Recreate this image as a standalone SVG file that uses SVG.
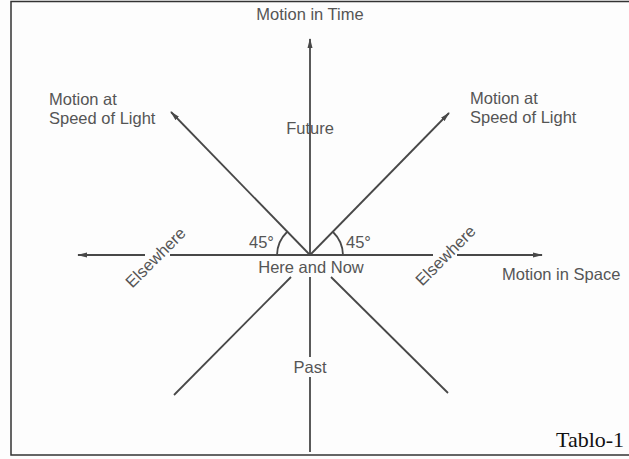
<svg xmlns="http://www.w3.org/2000/svg" width="629" height="459" viewBox="0 0 629 459">
<style>
.ln{stroke:#484848;stroke-width:1.8;fill:none}
.lb{font-family:"Liberation Sans",Arial,sans-serif;font-size:16.5px;fill:#555}
.cap{font-family:"Liberation Serif","Times New Roman",serif;font-size:22px;fill:#111}
</style>
<defs>
<marker id="ah" viewBox="0 0 10 6" refX="9" refY="3" markerWidth="10" markerHeight="6" markerUnits="userSpaceOnUse" orient="auto">
<path d="M0,0.5 L10,3 L0,5.5 Z" fill="#484848"/>
</marker>
</defs>
<rect width="629" height="459" fill="#fdfdfd"/>
<path d="M629,1.5 H11 V455 H629" stroke="#333" stroke-width="1.5" fill="none"/>
<g id="connectors">
<line class="ln" x1="310" y1="255" x2="310" y2="39" marker-end="url(#ah)"/>
<line class="ln" x1="310" y1="255" x2="171" y2="112" marker-end="url(#ah)"/>
<line class="ln" x1="310" y1="255" x2="449" y2="113" marker-end="url(#ah)"/>
<line class="ln" x1="145" y1="255" x2="78" y2="255" marker-end="url(#ah)"/>
<line class="ln" x1="170" y1="255" x2="433" y2="255"/>
<line class="ln" x1="457" y1="255" x2="542" y2="255" marker-end="url(#ah)"/>
<line class="ln" x1="310" y1="277" x2="310" y2="357"/>
<line class="ln" x1="310" y1="377" x2="310" y2="452"/>
<line class="ln" x1="291" y1="277" x2="174" y2="395"/>
<line class="ln" x1="331" y1="277" x2="448" y2="393"/>
<path class="ln" d="M277,255 A33,33 0 0 1 287,232"/>
<path class="ln" d="M343,255 A33,33 0 0 0 333,232"/>
</g>
<g id="time"><text class="lb" x="310" y="20" text-anchor="middle">Motion in Time</text></g>
<g id="light-left"><text class="lb" x="49" y="105">Motion at</text><text class="lb" x="49" y="124">Speed of Light</text></g>
<g id="light-right"><text class="lb" x="470" y="104">Motion at</text><text class="lb" x="470" y="123">Speed of Light</text></g>
<g id="future"><text class="lb" x="310" y="134" text-anchor="middle">Future</text></g>
<g id="angle-left"><text class="lb" x="249" y="248">45°</text></g>
<g id="angle-right"><text class="lb" x="346" y="248">45°</text></g>
<g id="here"><text class="lb" x="311" y="273" text-anchor="middle">Here and Now</text></g>
<g id="elsewhere-left"><text class="lb" x="0" y="5" text-anchor="middle" transform="translate(156,258) rotate(-45)">Elsewhere</text></g>
<g id="elsewhere-right"><text class="lb" x="0" y="5" text-anchor="middle" transform="translate(446,256) rotate(-45)">Elsewhere</text></g>
<g id="space"><text class="lb" x="502" y="280">Motion in Space</text></g>
<g id="past"><text class="lb" x="310" y="373" text-anchor="middle">Past</text></g>
<g id="caption"><text class="cap" x="556" y="447">Tablo-1</text></g>
</svg>
